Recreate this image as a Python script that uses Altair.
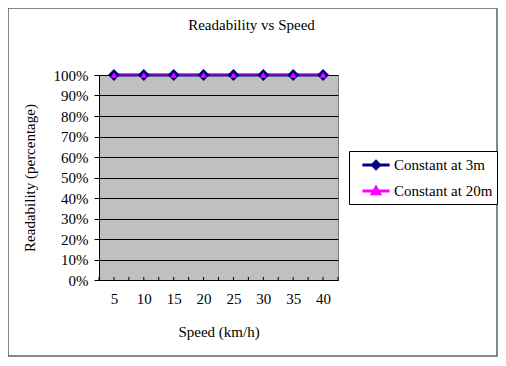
import altair as alt
import pandas as pd

# ---- data ----
speeds = [5, 10, 15, 20, 25, 30, 35, 40]
readability_3m = [1.0, 1.0, 1.0, 1.0, 1.0, 1.0, 1.0, 1.0]
readability_20m = [1.0, 1.0, 1.0, 1.0, 1.0, 1.0, 1.0, 1.0]
series_names = ["Constant at 3m", "Constant at 20m"]
series_colors = ["#000080", "#FF00FF"]
legend_shapes = [
    "M-1.6,0L1.6,0M0,-0.42L0.42,0L0,0.42L-0.42,0Z",
    "M-1.6,0L1.6,0M0,-0.4L0.42,0.32L-0.42,0.32Z",
]
y_ticks = [0.0, 0.1, 0.2, 0.3, 0.4, 0.5, 0.6, 0.7, 0.8, 0.9, 1.0]
x_minor_ticks = [2.5, 5, 7.5, 10, 12.5, 15, 17.5, 20, 22.5, 25, 27.5,
                 30, 32.5, 35, 37.5, 40, 42.5]

FONT = "Liberation Serif"

df3 = pd.DataFrame({"speed": speeds, "readability": readability_3m,
                    "series": series_names[0]})
df20 = pd.DataFrame({"speed": speeds, "readability": readability_20m,
                     "series": series_names[1]})
df_all = pd.concat([df3, df20], ignore_index=True)
df_ticks = pd.DataFrame({"t": x_minor_ticks})

x_scale = alt.Scale(domain=[2.5, 42.5], nice=False, zero=False)
y_scale = alt.Scale(domain=[0, 1], nice=False)

x_axis = alt.Axis(values=speeds, title="Speed (km/h)", tickSize=0, grid=False,
                  domainColor="black", labelPadding=11, titlePadding=18)
y_axis = alt.Axis(values=y_ticks, format="%", title="Readability (percentage)",
                  tickSize=5, tickColor="black", grid=True, gridColor="black",
                  gridOpacity=1, domainColor="black", labelPadding=6,
                  titlePadding=16)

X = alt.X("speed:Q", scale=x_scale, axis=x_axis)
Y = alt.Y("readability:Q", scale=y_scale, axis=y_axis)

leg = alt.Legend(title=None, orient="none", legendX=250, legendY=76,
                 strokeColor="black", fillColor="white", padding=4,
                 symbolOffset=13, symbolSize=289, symbolStrokeWidth=3,
                 labelFontSize=15, labelFont=FONT, labelColor="black",
                 labelOffset=8, rowPadding=6, cornerRadius=0)

frame = alt.Chart(pd.DataFrame({"k": [0]})).mark_rect(
    fillOpacity=0, stroke="#606060", strokeWidth=1.5
).encode(x=alt.value(-91), x2=alt.value(398), y=alt.value(-67), y2=alt.value(281))

ticks = alt.Chart(df_ticks).mark_rule(color="black", strokeWidth=1).encode(
    x=alt.X("t:Q", scale=x_scale, axis=x_axis),
    y=alt.datum(0, scale=y_scale, axis=y_axis),
    y2=alt.datum(0.015),
)

carrier = alt.Chart(df_all).mark_point(
    filled=True, size=1, opacity=1, strokeWidth=3
).encode(
    x=X, y=Y,
    color=alt.Color("series:N", scale=alt.Scale(domain=series_names, range=series_colors), legend=leg),
    stroke=alt.Stroke("series:N", scale=alt.Scale(domain=series_names, range=series_colors), legend=leg),
    shape=alt.Shape("series:N", scale=alt.Scale(domain=series_names, range=legend_shapes), legend=leg),
)

line3 = alt.Chart(df3).mark_line(color=series_colors[0], strokeWidth=3).encode(x=X, y=Y)
line20 = alt.Chart(df20).mark_line(color=series_colors[1], strokeWidth=2,
                                   strokeOpacity=0.5).encode(x=X, y=Y)
pt3 = alt.Chart(df3).mark_point(filled=True, shape="diamond", size=144,
                                color=series_colors[0], opacity=1).encode(x=X, y=Y)
pt20 = alt.Chart(df20).mark_point(filled=True, shape="triangle-up", size=40,
                                  color=series_colors[1], opacity=1).encode(x=X, y=Y)

chart = alt.layer(frame, ticks, carrier, line3, line20, pt3, pt20).properties(
    width=239, height=205,
    title=alt.TitleParams(text="Readability vs Speed", fontSize=15, font=FONT,
                          fontWeight="normal", color="black", anchor="middle",
                          frame="group", dx=33, offset=-26),
    autosize=alt.AutoSizeParams(type="none"),
    padding={"left": 91, "top": 67, "right": 160, "bottom": 78},
    background="white",
).configure_view(
    fill="#C0C0C0", stroke="#808080", strokeWidth=1
).configure_axis(
    labelFont=FONT, labelFontSize=15, labelColor="black",
    titleFont=FONT, titleFontSize=15, titleColor="black", titleFontWeight="normal",
)

chart.save("out.html", embed_options={"renderer": "svg", "actions": False})
